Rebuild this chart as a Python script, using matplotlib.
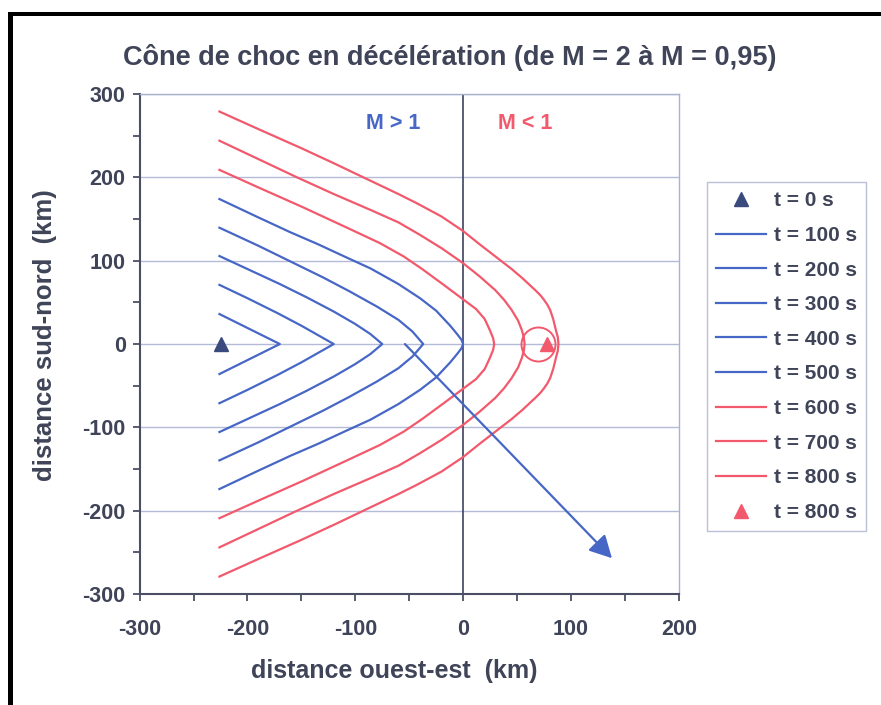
import matplotlib
matplotlib.use("Agg")
from matplotlib import pyplot as plt
from matplotlib.patches import Rectangle

plt.rcParams['font.family'] = ['Liberation Sans', 'DejaVu Sans']
plt.rcParams['font.weight'] = 'bold'
plt.rcParams['axes.unicode_minus'] = False

# temps (s) des fronts d'onde
temps = [100, 200, 300, 400, 500, 600, 700, 800]

# demi-courbes supérieures (km), de l'extrémité ouest vers la pointe
front_x = [
    [-226, -170],
    [-226, -200, -172, -150, -135, -120],
    [-226, -200, -170, -145, -120, -100, -86, -75],
    [-226, -190, -160, -130, -105, -80, -60, -47, -37],
    [-226, -190, -160, -135, -110, -86, -60, -40, -25, -12, -5, -1.5, 0],
    [-226, -190, -150, -110, -77, -55, -38, -18, 0, 12, 20, 25, 27.8, 28.8],
    [-226, -190, -154, -120, -86, -60, -40, -20, 0, 15, 29.7, 38, 45, 51, 54.4, 56.3, 57],
    [-226, -190, -150, -120, -86, -60, -43, -20, 0, 15, 33, 45, 55, 62, 66.8, 72, 75,
     78, 80.7, 83.5, 86, 87.8, 88.4],
]
front_y = [
    [36, 0],
    [71, 55, 37, 22, 11, 0],
    [105.6, 90, 72, 56, 39, 24, 12, 0],
    [139.6, 118, 99, 80, 63, 45, 29, 15, 0],
    [174, 152, 134, 120, 105, 90.8, 72, 55, 40, 22, 11, 5, 0],
    [209, 188, 165, 141, 121, 105, 90, 71, 53.6, 42, 30, 16, 7, 0],
    [244, 222, 200, 180, 161, 146, 131, 115, 97, 81.5, 64.8, 53, 40.8, 28, 16.8, 8, 0],
    [279, 258, 235, 217, 196, 180, 169, 153, 135.6, 120, 102, 90, 79, 70.5, 64.8, 58, 53,
     47.5, 40.8, 30, 16.8, 8, 0],
]

avion_t0 = (-225, 0)
avion_t800 = (78, 0)
onde_centre = (69.6, 0)
fleche_debut = (-54, 0)
fleche_fin = (138, -257)

bleu = '#4767c6'
rouge = '#f2596c'
marine = '#3b4a7e'
texte = '#3f4458'

fig = plt.figure(figsize=(8.81, 7.05), dpi=100)
ax = fig.add_axes([0.1585, 0.1574, 0.612, 0.7092])

handles = []
h0, = ax.plot(*avion_t0, marker='^', ms=10, color=marine, ls='none', label='t = 0 s')
handles.append(h0)
for t, xs, ys in zip(temps, front_x, front_y):
    xx = xs + xs[-2::-1]
    yy = ys + [-v for v in ys[-2::-1]]
    c = bleu if t <= 500 else rouge
    h, = ax.plot(xx, yy, color=c, lw=1.6, label='t = %d s' % t)
    handles.append(h)
h8, = ax.plot(*avion_t800, marker='^', ms=10, color=rouge, ls='none', label='t = 800 s')
handles.append(h8)
ax.plot(*onde_centre, marker='o', ms=24.5, mfc='none', mec=rouge, mew=1.4)

ax.annotate('', xy=fleche_fin, xytext=fleche_debut,
            arrowprops=dict(arrowstyle='-|>,head_length=0.85,head_width=0.45',
                            color=bleu, lw=1.6, mutation_scale=16,
                            shrinkA=0, shrinkB=0))

ax.axvline(0, color='#3d4360', lw=1.2, zorder=1)
ax.text(-65, 265, 'M > 1', color=bleu, fontsize=15.5, ha='center', va='center')
ax.text(57.5, 265, 'M < 1', color=rouge, fontsize=15.5, ha='center', va='center')

ax.set_xlim(-300, 200)
ax.set_ylim(-300, 300)
ax.set_xticks(range(-300, 201, 100))
ax.set_xticks(range(-250, 200, 100), minor=True)
ax.set_yticks(range(-300, 301, 100))
ax.set_yticks(range(-250, 300, 100), minor=True)
ax.grid(axis='y', which='major', color='#b3bbd8', lw=1)
ax.set_axisbelow(True)
ax.tick_params(which='both', direction='out', length=5, width=1.3, color='#4a4f66',
               labelcolor=texte, labelsize=15.5)
ax.tick_params(axis='x', pad=13)
ax.tick_params(axis='y', pad=5)
for s in ['left', 'bottom']:
    ax.spines[s].set_color('#4a4f66')
    ax.spines[s].set_linewidth(1.5)
for s in ['top', 'right']:
    ax.spines[s].set_color('#a9b1cc')
    ax.spines[s].set_linewidth(1)

fig.text(0.511, 0.919, 'Cône de choc en décélération (de M = 2 à M = 0,95)',
         ha='center', va='center', fontsize=19.5, color=texte)
fig.text(0.448, 0.048, 'distance ouest-est  (km)', ha='center', va='center',
         fontsize=18, color=texte)
fig.text(0.051, 0.525, 'distance sud-nord  (km)', ha='center', va='center',
         rotation=90, fontsize=18.5, color=texte)

leg = fig.legend(handles=handles, loc='upper left', bbox_to_anchor=(0.8025, 0.742),
                 fontsize=15, frameon=True, fancybox=False, edgecolor='#a9b1cc',
                 handlelength=2.4, handletextpad=0.35, labelspacing=0.75,
                 borderpad=0.45, borderaxespad=0)
for txt in leg.get_texts():
    txt.set_color(texte)
leg.get_frame().set_linewidth(1)

# cadre noir du scan
fig.add_artist(Rectangle((8 / 881, 0), 5 / 881, 693 / 705, transform=fig.transFigure,
                         color='black', lw=0))
fig.add_artist(Rectangle((8 / 881, 689 / 705), 873 / 881, 4 / 705, transform=fig.transFigure,
                         color='black', lw=0))

plt.savefig('out.png', dpi=100)
